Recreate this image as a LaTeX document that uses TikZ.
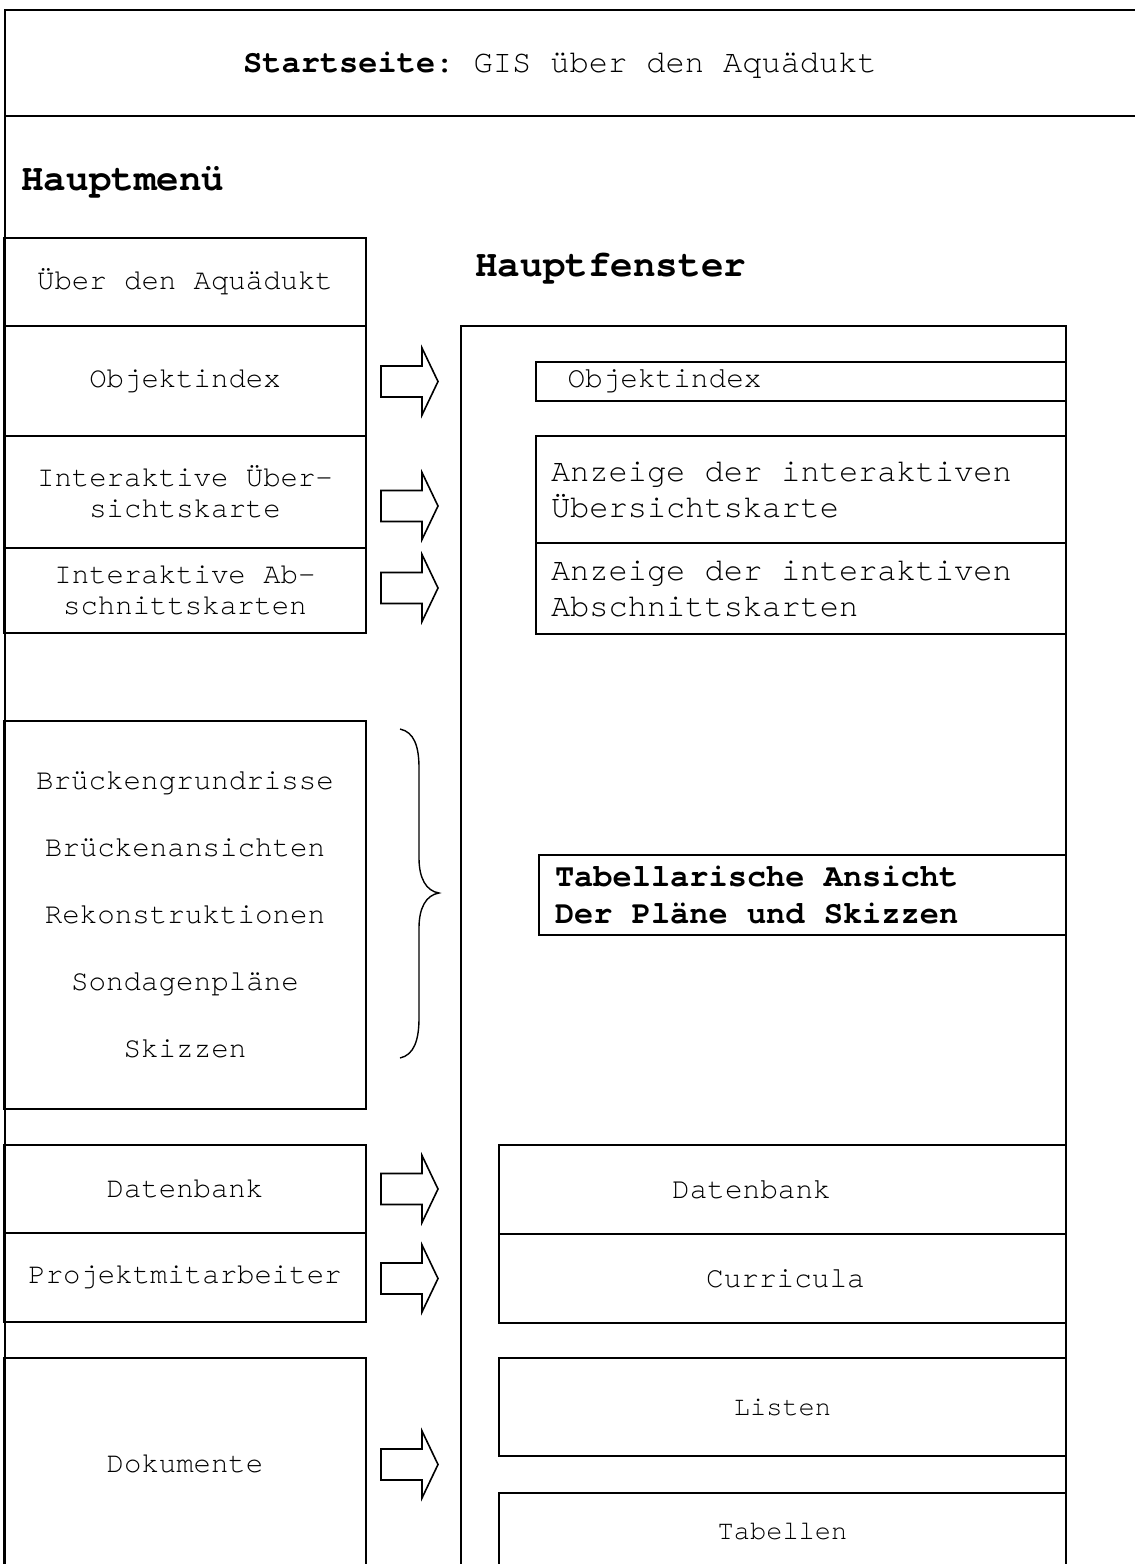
\documentclass[tikz,border=0pt]{standalone}
\usepackage{fontspec}
\setmainfont{texgyrecursor}[Extension=.otf,UprightFont=*-regular,BoldFont=*-bold,ItalicFont=*-italic,BoldItalicFont=*-bolditalic,WordSpace={1,0,0},PunctuationSpace=WordSpace]
\frenchspacing
\newcommand\fixsp{\spaceskip=0.6em\xspaceskip=0.6em\relax}
\begin{document}
\begin{tikzpicture}[x=0.5pt,y=-0.5pt,
  frame/.style={draw, line width=1pt, inner sep=0pt},
  mbox/.style={draw, line width=1pt, inner sep=0pt, minimum width=181pt, align=center,
               font=\fontsize{14.5}{15.5}\selectfont},
  wbox/.style={draw, line width=1pt, inner ysep=0pt, align=left,
               font=\fontsize{16}{18}\selectfont},
  cbox/.style={draw, line width=1pt, inner sep=0pt, minimum width=283.5pt,
               font=\fontsize{14.7}{16}\selectfont},
  heading/.style={inner sep=0pt, font=\bfseries\fontsize{18.8}{20}\selectfont},
  barrow/.style={draw, line width=0.8pt, line join=miter},
  bracestyle/.style={draw, line width=0.7pt}
]
\useasboundingbox (0,0) rectangle (1135,1564);
\clip (0,0) rectangle (1135,1564);

% outer frame
\node[frame, minimum width=700pt, minimum height=900pt, anchor=north west] (outer) at (4,9) {};
\coordinate (divl) at (4,116);
\coordinate (divr) at (1200,116);
\draw[line width=1pt] (divl) -- (divr);

% title and headings
\node[inner sep=0pt, anchor=base, font=\fontsize{16}{18}\selectfont] (title) at (560,72)
  {\textbf{Startseite}: GIS über den Aquädukt};
\node[heading, anchor=base west] (hm) at (21,190) {Hauptmenü};
\node[heading, anchor=base west] (hf) at (475,276) {Hauptfenster};

% main menu
\node[mbox, minimum height=44pt] (m1) at (185,282) {\fixsp Über den Aquädukt};
\node[mbox, minimum height=55pt] (m2) at (185,381) {Objektindex};
\node[mbox, minimum height=56pt] (m3) at (185,492) {\fixsp Interaktive Über-\\sichtskarte};
\node[mbox, minimum height=42.5pt] (m4) at (185,590.5) {\fixsp Interaktive Ab-\\schnittskarten};
\node[mbox, minimum height=194pt, font=\fontsize{14.6}{33.5}\selectfont] (m5) at (185,915)
  {Brückengrundrisse\\Brückenansichten\\Rekonstruktionen\\Sondagenpläne\\Skizzen};
\node[mbox, minimum height=44pt] (m6) at (185,1189) {Datenbank};
\node[mbox, minimum height=44.5pt] (m7) at (185,1277.5) {Projektmitarbeiter};
\node[mbox, minimum height=106pt] (m8) at (185,1464) {Dokumente};

% main window
\node[frame, minimum width=302.5pt, minimum height=700pt] (win) at (763.5,1026) {};
\node[wbox, minimum height=19.5pt, inner xsep=15.75pt, text width=233.5pt,
      font=\fontsize{14.7}{16}\selectfont] (r1) at (801,381.5) {Objektindex};
\node[wbox, minimum height=53.5pt, inner xsep=7.5pt, text width=250pt] (r2) at (801,489.5)
  {\fixsp Anzeige der interaktiven\\Übersichtskarte};
\node[wbox, minimum height=45.5pt, inner xsep=7.5pt, text width=250pt] (r3) at (801,588.5)
  {\fixsp Anzeige der interaktiven\\Abschnittskarten};
\node[wbox, minimum height=40pt, inner xsep=8pt, text width=247.5pt,
      font=\bfseries\fontsize{16}{18.5}\selectfont] (r4) at (802.5,895)
  {\fixsp Tabellarische Ansicht\\Der Pläne und Skizzen};
\node[cbox, minimum height=44.5pt] (r5) at (782.5,1189.5) {Datenbank\hspace*{31pt}};
\node[cbox, minimum height=44.5pt] (r6) at (782.5,1278.5) {Curricula\hspace*{-3pt}};
\node[cbox, minimum height=49pt, font=\fontsize{13.5}{15}\selectfont] (r7) at (782.5,1407) {Listen};
\node[cbox, minimum height=39pt, font=\fontsize{13.5}{15}\selectfont] (r8) at (782.5,1532) {Tabellen};

% block arrows
\coordinate (a1) at (381,381.5);
\coordinate (a2) at (381,506);
\coordinate (a3) at (381,588);
\coordinate (a4) at (381,1189);
\coordinate (a5) at (381,1278.5);
\coordinate (a6) at (381,1464.5);
\foreach \a in {a1,a2,a3,a4,a5,a6}{
  \draw[barrow] (\a) ++(0,-15.5) -- ++(41,0) -- ++(0,-18) -- ++(16,33.5)
     -- ++(-16,33.5) -- ++(0,-18) -- ++(-41,0) -- cycle;
}

% brace
\coordinate (bt) at (400,729);
\coordinate (bm) at (439,893);
\coordinate (bb) at (400,1058);
\draw[bracestyle] (bt) .. controls (414,732) and (419,746) .. (419,768)
  -- (419,858) .. controls (419,878) and (426,891) .. (bm)
  .. controls (426,895) and (419,908) .. (419,928)
  -- (419,1018) .. controls (419,1040) and (414,1055) .. (bb);
\end{tikzpicture}
\end{document}
